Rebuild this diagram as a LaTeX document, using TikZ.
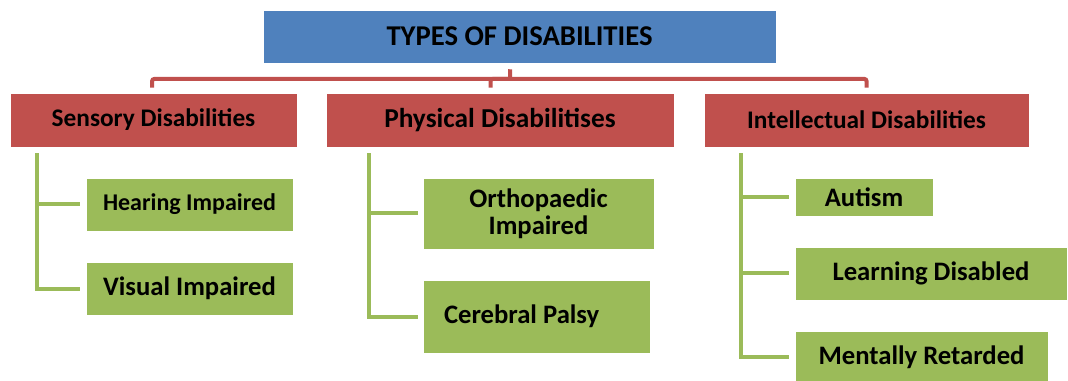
\documentclass[tikz,border=0pt]{standalone}
\usepackage{fontspec}
\setmainfont{Carlito}
\usepackage{tikz}
\definecolor{blue}{HTML}{4F81BD}
\definecolor{red}{HTML}{C0504D}
\definecolor{green}{HTML}{9BBB59}
\tikzstyle{heading} = [draw=white, rectangle, fill=blue, text centered, align=center, inner sep=0pt, font=\bfseries\fontsize{21.5}{24}\selectfont]
\tikzstyle{category} = [draw=white, rectangle, fill=red, text centered, align=center, inner sep=0pt, font=\bfseries\fontsize{19}{22}\selectfont]
\tikzstyle{subtype} = [draw=white, rectangle, fill=green, text centered, align=center, inner sep=0pt, font=\bfseries\fontsize{20}{20.25}\selectfont]
\tikzstyle{bus} = [draw=red, line width=3pt, rounded corners=1.5pt]
\tikzstyle{branch} = [draw=green, line width=3pt]

\begin{document}
\begin{tikzpicture}[x=0.75pt, y=-0.75pt]
    \useasboundingbox (0,0) rectangle (1068,381);
    \draw (519.5,36.5) node[heading, minimum width=384.75pt, minimum height=39.75pt] (A) {TYPES OF DISABILITIES};
    \draw (153.5,120)  node[category, minimum width=215.25pt, minimum height=40.5pt] (B) {Sensory Disabilities};
    \draw (500,120)    node[category, minimum width=261pt, minimum height=40.5pt, font=\bfseries\fontsize{20.5}{22}\selectfont] (C) {Physical Disabilitises};
    \draw (866.5,120)  node[category, minimum width=243.75pt, minimum height=40.5pt] (D) {Intellectual Disabilities};
    \draw (189.5,204.5) node[subtype, minimum width=155.25pt, minimum height=39.75pt, font=\bfseries\fontsize{18}{20}\selectfont] (E) {Hearing Impaired};
    \draw (189.5,288.5) node[subtype, minimum width=155.25pt, minimum height=39.75pt] (F) {Visual Impaired};
    \draw (538.5,213.5) node[subtype, minimum width=173.25pt, minimum height=53.25pt] (G) {Orthopaedic \\ Impaired};
    \draw (536.5,316.5) node[subtype, minimum height=54.75pt, text width=138.75pt, inner xsep=15.75pt, align=flush left] (H) {Cerebral Palsy};
    \draw (864,197)     node[subtype, minimum width=103.5pt, minimum height=28.5pt] (I) {Autism};
    \draw (931,273.5)   node[subtype, minimum width=204pt, minimum height=39.75pt] (J) {Learning Disabled};
    \draw (921.5,357)   node[subtype, minimum width=189.75pt, minimum height=39pt] (K) {Mentally Retarded};
    % red bus from the heading
    \coordinate (P) at (510,79);
    \draw[bus] (P) -- ([xshift=-7pt, yshift=-4.5pt]A.south);
    \draw[bus] ([xshift=-1pt, yshift=3.75pt]B.north) |- (P) -| ([yshift=3.75pt]D.north);
    \draw[bus] ([xshift=-7pt, yshift=3.75pt]C.north) |- (P);
    % green branches
    \coordinate (Q) at ([xshift=20.25pt, yshift=-4.5pt]B.south west);
    \coordinate (R) at ([xshift=32.25pt, yshift=-4.5pt]C.south west);
    \coordinate (S) at ([xshift=27.75pt, yshift=-4.5pt]D.south west);
    \draw[branch] (Q) |- ([xshift=-4.5pt]E.west);
    \draw[branch] (Q) |- ([xshift=-4.5pt]F.west);
    \draw[branch] (R) |- ([xshift=-3.75pt]G.west);
    \draw[branch] (R) |- ([xshift=-3.75pt]H.west);
    \draw[branch] (S) |- ([xshift=-4.5pt]I.west);
    \draw[branch] (S) |- ([xshift=-4.5pt]J.west);
    \draw[branch] (S) |- ([xshift=-4.5pt]K.west);
\end{tikzpicture}
\end{document}
